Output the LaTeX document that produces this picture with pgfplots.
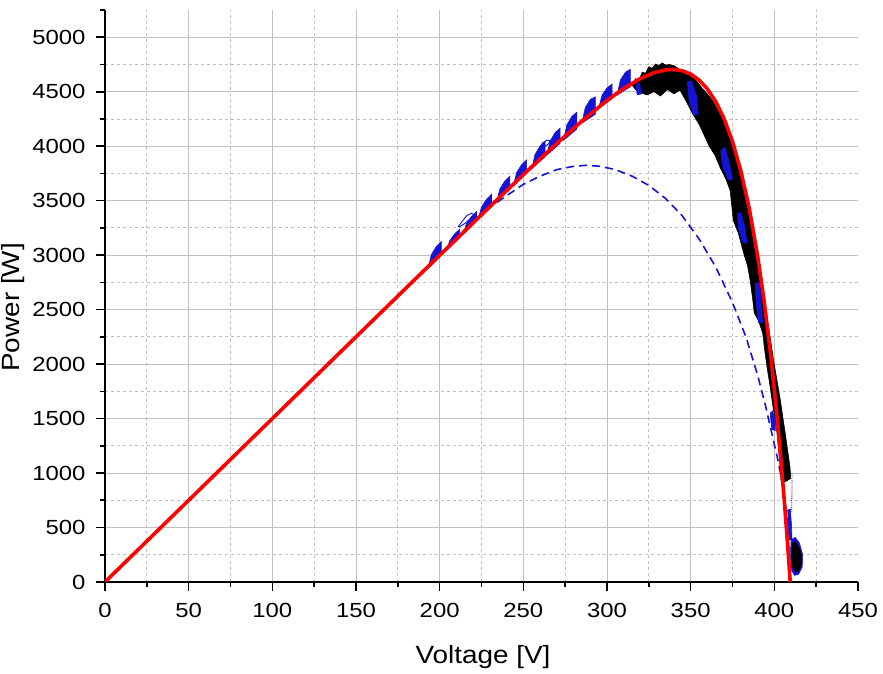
\documentclass[border=0pt]{standalone}
\usepackage{fontspec}
\setmainfont{Liberation Sans}
\usepackage{graphicx}
\usepackage{pgfplots}
\pgfplotsset{compat=1.18}
\definecolor{gridgray}{RGB}{192,192,192}
\definecolor{dblue}{RGB}{20,20,215}
\definecolor{myred}{RGB}{255,0,0}
\newcommand{\hs}[1]{\scalebox{1.17}[1]{#1}}
\begin{document}
\begin{tikzpicture}
\useasboundingbox (0,0) rectangle (883bp,674bp);
\begin{axis}[
 at={(105bp,92bp)}, anchor=south west,
 scale only axis, width=753bp, height=572bp,
 xmin=0, xmax=450, ymin=0, ymax=5250,
 axis x line=bottom, axis y line=left,
 axis line style={-, line width=1.6bp, black},
 xtick={0,50,...,400}, extra x ticks={450}, extra x tick style={grid=none},
 ytick={0,500,...,5000}, extra y ticks={5250}, extra y tick labels={},
 extra y tick style={grid=none, major tick length=5bp},
 minor xtick={25,75,...,425}, minor ytick={250,750,...,4750},
 grid=both,
 major grid style={gridgray, line width=0.8bp},
 minor grid style={gridgray, line width=0.8bp, dash pattern=on 3bp off 3bp},
 tick align=outside, major tick length=9bp, minor tick length=5bp,
 tick style={black, line width=1.6bp},
 scaled ticks=false,
 /pgf/number format/1000 sep={},
 /pgf/number format/assume math mode=true,
 xticklabel={\hs{\pgfmathprintnumber{\tick}}},
 yticklabel={\hs{\pgfmathprintnumber{\tick}}},
 ticklabel style={font=\fontsize{20.5}{24}\selectfont},
 xticklabel style={yshift=-9bp},
 yticklabel style={xshift=-7bp},
 xlabel={\scalebox{1.12}[1]{Voltage [V]}}, ylabel={\scalebox{1.12}[1]{Power [W]}},
 label style={font=\fontsize{25}{28}\selectfont},
 xlabel style={at={(axis description cs:0.502,-0.131)}, anchor=center},
 ylabel style={at={(axis description cs:-0.1225,0.48)}, anchor=center},
 tooth/.style={fill=dblue, draw=dblue, line width=0.6bp},
]
% black measured data (band)
\addplot[fill=black, draw=black, line width=0.5bp] coordinates {
(340,4740) (344,4700) (348,4670) (351,4640) (354,4590) (357,4530) (360,4480) (363,4420) (366,4340) (369,4270) (372,4150) (375,4030) (377.5,3900) (380,3760) (382.5,3600) (384.5,3460) (386.5,3300) (388.5,3130) (390.5,2960) (392.5,2780) (394,2600) (395.5,2440) (397.5,2250) (399.5,2040) (401.5,1860) (403.5,1680) (405.2,1500) (406.5,1370) (407.6,1250) (408.6,1140) (409.4,1050) (409.8,950)
(404.2,900) (403.6,1000) (403.2,1120) (402.3,1250) (401.6,1370) (400.2,1500) (398.6,1670) (397.2,1820) (395.6,1972) (394.2,2130) (393,2284) (390.5,2400) (388,2468) (387,2600) (385.5,2771) (384,2900) (382,3000) (380.7,3073) (378.5,3200) (375.4,3321) (374.5,3460) (373.5,3596) (371,3700) (367.5,3807) (364.5,3917) (361,4000) (358.6,4083) (355,4200) (351,4303) (347,4420) (343.6,4514) (340,4480) (336,4520) (332,4460) (328,4500) (324,4470) (320,4490) (317,4520) (315,4560)
(317,4620) (319,4600) (321,4680) (323,4670) (325,4730) (327,4715) (329,4755) (331,4740) (333,4765) (335,4745) (337,4750)
} --cycle;
\addplot[black, densely dotted, line width=0.8bp] coordinates {(410.6,1000) (410.4,640)};
% blue around bottom blob
\addplot[fill=dblue, draw=dblue] coordinates {(410,390) (412.5,410) (415,360) (417,250) (416.8,140) (414.5,70) (412,60) (410.2,110) (409.6,230) (409.8,330)} --cycle;
\addplot[fill=black, draw=black] coordinates {(411,360) (412.5,380) (414,340) (415.5,290) (416.5,220) (416,150) (414.5,100) (412.5,95) (411,140) (410.3,230) (410.5,310)} --cycle;
% blue patches on falling side
\addplot[tooth] coordinates {(348,4590) (350.5,4600) (353.5,4460) (354.5,4300) (352,4280) (349,4420)} --cycle;
\addplot[tooth] coordinates {(368,3960) (370.5,3990) (373,3850) (375,3700) (372.5,3690) (369,3820)} --cycle;
\addplot[tooth] coordinates {(378,3380) (380,3390) (382.5,3250) (383.7,3110) (381,3120) (378.5,3250)} --cycle;
\addplot[tooth] coordinates {(388.5,2740) (391,2750) (392,2600) (393,2380) (390.5,2380) (389.2,2560)} --cycle;
\addplot[tooth] coordinates {(397.5,1550) (399,1570) (400.5,1460) (400.6,1390) (398.5,1400)} --cycle;
\addplot[tooth] coordinates {(408,660) (409.5,670) (410.3,520) (410.5,390) (409,385) (408.3,520)} --cycle;
\addplot[tooth] coordinates {(317.5,4570) (319.5,4580) (320.5,4480) (318,4470)} --cycle;
% blue teeth on rising side
\addplot[tooth] coordinates {(193,2875) (195,3002) (198,3080) (201,3125) (201,2995)} --cycle;
\addplot[tooth] coordinates {(204,3040) (206,3132) (209,3195) (212,3240) (212,3160)} --cycle;
\addplot[tooth] coordinates {(214,3190) (216,3289) (219,3355) (222,3400) (222,3310)} --cycle;
\addplot[tooth] coordinates {(223,3325) (225,3442) (228,3513) (231,3558) (231,3443)} --cycle;
\addplot[tooth] coordinates {(234,3488) (236,3608) (239,3682) (242,3725) (242,3605)} --cycle;
\addplot[tooth] coordinates {(244,3634) (246,3758) (249,3831) (252,3874) (252,3749)} --cycle;
\addplot[tooth] coordinates {(255,3792) (257,3924) (260,4001) (263,4043) (263,3903)} --cycle;
\addplot[tooth] coordinates {(264,3917) (266,4047) (269,4125) (272,4166) (272,4026)} --cycle;
\addplot[tooth] coordinates {(274,4053) (276,4194) (279,4273) (282,4313) (282,4158)} --cycle;
\addplot[tooth] coordinates {(285,4211) (287,4353) (290,4430) (293,4453) (293,4293)} --cycle;
\addplot[tooth] coordinates {(295,4345) (297,4468) (300,4535) (303,4570) (303,4435)} --cycle;
\addplot[tooth] coordinates {(306,4468) (308,4607) (311,4679) (314,4706) (314,4546)} --cycle;
% hysteresis loops
\addplot[dblue, line width=0.9bp] coordinates {(211,3260) (213,3300) (216,3360) (219,3385) (220.5,3370) (218,3330) (215,3290) (212,3262) (211,3260)};
\addplot[dblue, line width=0.9bp] coordinates {(260,3990) (261.5,4030) (264,4055) (266,4050) (265,4020) (262.5,3995) (260,3990)};
% dashed model curve
\addplot[dblue, line width=1.6bp, dash pattern=on 8bp off 5bp] coordinates {
(0,0) (100,1500) (200,2995) (220,3295) (230,3440) (240,3545) (250,3650) (260,3725) (270,3785) (280,3815) (288,3825) (296,3815) (305,3785) (315,3725) (325,3640) (335,3520) (345,3360) (355,3150) (365,2890) (375,2565) (383,2250) (390,1900) (395,1600) (399,1330) (402,1130) (404.6,920) (406.5,740) (408,520) (409.5,0)};
% red model curve
\addplot[myred, line width=3.6bp] coordinates {
(0,0) (50,750) (100,1500) (150,2250) (200,2999) (230,3445) (250,3739) (270,4026) (285,4231) (300,4420) (310,4530) (320,4621) (328,4674) (335,4700) (340,4704) (345,4692) (350,4662) (355,4607) (360,4525) (365,4409) (370,4251) (375,4043) (380,3773) (385,3429) (390,2994) (394,2568) (398,2059) (401,1614) (404,1110) (406,735) (408,329) (409.5,0)};
\end{axis}
\end{tikzpicture}
\end{document}
